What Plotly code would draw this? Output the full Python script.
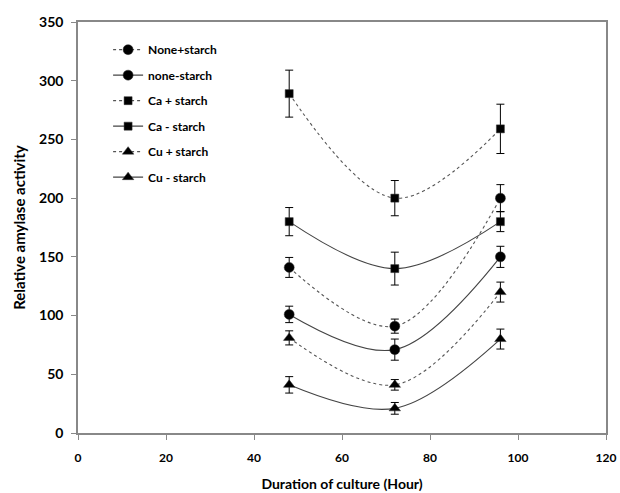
import plotly.graph_objects as go

hours = [48, 72, 96]

series_names = ["None+starch", "none-starch", "Ca + starch", "Ca - starch", "Cu + starch", "Cu - starch"]
none_plus = [141, 91, 200]
none_plus_err = [8.5, 6, 11.5]
none_minus = [101, 71, 150]
none_minus_err = [7, 9, 9]
ca_plus = [289, 200, 259]
ca_plus_err = [20, 15, 21]
ca_minus = [180, 140, 180]
ca_minus_err = [12, 14, 8.5]
cu_plus = [81, 41, 120]
cu_plus_err = [6, 4.5, 8.5]
cu_minus = [41, 21, 80]
cu_minus_err = [7, 5, 8.5]

values = [none_plus, none_minus, ca_plus, ca_minus, cu_plus, cu_minus]
errors = [none_plus_err, none_minus_err, ca_plus_err, ca_minus_err, cu_plus_err, cu_minus_err]
symbols = ["circle", "circle", "square", "square", "triangle-up", "triangle-up"]
sizes = [10, 10, 8, 8, 10, 10]
dashes = ["dot", "solid", "dot", "solid", "dot", "solid"]
line_colors = ["#555555", "#444444", "#555555", "#444444", "#555555", "#444444"]

FONT = "Lato"

fig = go.Figure()
for i, name in enumerate(series_names):
    fig.add_trace(go.Scatter(
        x=hours, y=values[i], name=name, mode="lines+markers",
        legendgroup="g%d" % i,
        line=dict(shape="spline", smoothing=1.0, dash=dashes[i], color=line_colors[i], width=1.1),
        marker=dict(symbol=symbols[i], size=sizes[i], color="black", line=dict(color="#333333", width=0.5)),
        error_y=dict(type="data", array=errors[i], visible=True, color="black", thickness=1, width=4),
    ))

fig.update_layout(
    width=620, height=493,
    margin=dict(l=78, r=14, t=22, b=60, autoexpand=False),
    paper_bgcolor="white", plot_bgcolor="white",
    font=dict(family=FONT, color="black"),
    showlegend=True,
    legend=dict(
        x=0.057, y=0.968, xanchor="left", yanchor="top",
        bgcolor="rgba(0,0,0,0)", borderwidth=0,
        font=dict(family=FONT, size=12, color="black", weight="bold"),
        tracegroupgap=6.5,
    ),
    xaxis=dict(
        range=[0, 120], tick0=0, dtick=20, ticks="outside", ticklen=5, tickcolor="#888888",
        automargin=False, ticklabelstandoff=8,
        showgrid=False, zeroline=False, showline=True, linecolor="#888888", linewidth=1.5, mirror=True,
        tickfont=dict(family=FONT, size=12, color="black", weight="bold"),
        title=dict(text="Duration of culture (Hour)", font=dict(family=FONT, size=14, color="black", weight="bold"), standoff=15),
    ),
    yaxis=dict(
        range=[0, 350], tick0=0, dtick=50, ticks="outside", ticklen=5, tickcolor="#888888",
        automargin=False, ticklabelstandoff=5,
        showgrid=False, zeroline=False, showline=True, linecolor="#888888", linewidth=1.5, mirror=True,
        tickfont=dict(family=FONT, size=14, color="black", weight="bold"),
        title=dict(text="Relative amylase activity", font=dict(family=FONT, size=15, color="black", weight="bold"), standoff=10),
    ),
)

fig.write_html("out.html", config={"displayModeBar": False}, post_script="document.body.style.margin='0';")
